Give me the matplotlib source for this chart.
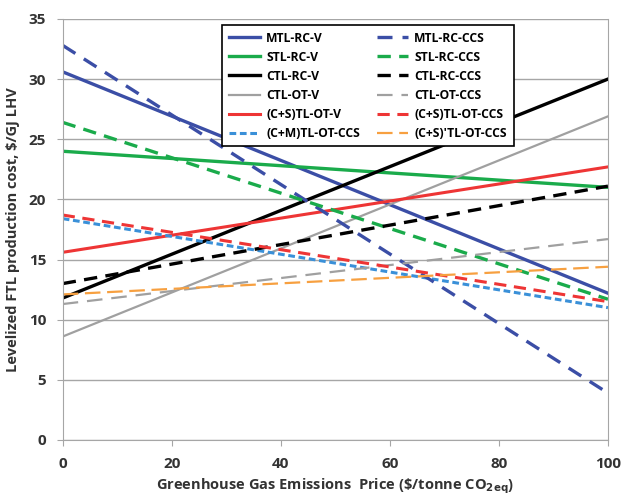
import matplotlib
matplotlib.use("Agg")
import matplotlib.pyplot as plt

# GHG price ($/tonne CO2eq)
price = [0, 100]

# levelized cost at price 0 and 100 ($/GJ LHV)
mtl_rc_v = [30.6, 12.2]
mtl_rc_ccs = [32.8, 3.9]
stl_rc_v = [24.0, 21.0]
stl_rc_ccs = [26.4, 11.7]
ctl_rc_v = [11.8, 30.0]
ctl_rc_ccs = [13.0, 21.1]
ctl_ot_v = [8.6, 26.9]
ctl_ot_ccs = [11.3, 16.7]
cs_ot_v = [15.6, 22.7]
cs_ot_ccs = [18.7, 11.5]
cm_ot_ccs = [18.4, 11.0]
csp_ot_ccs = [12.1, 14.4]

plt.rcParams['font.family'] = ['Open Sans', 'DejaVu Sans']
plt.rcParams['mathtext.default'] = 'bf'

fig = plt.figure(figsize=(6.21, 4.98), dpi=100)
ax = fig.add_axes([0.101, 0.1165, 0.878, 0.8455])

blue = "#3b4ea6"
green = "#1aab4b"
grey = "#a0a0a0"
red = "#ee3535"
lblue = "#3a90d8"
orange = "#f7a040"

# left legend column first, then right column
ax.plot(price, mtl_rc_v, color=blue, lw=2.4, label="MTL-RC-V")
ax.plot(price, stl_rc_v, color=green, lw=2.4, label="STL-RC-V")
ax.plot(price, ctl_rc_v, color="black", lw=2.4, label="CTL-RC-V")
ax.plot(price, ctl_ot_v, color=grey, lw=1.6, label="CTL-OT-V")
ax.plot(price, cs_ot_v, color=red, lw=2.2, label="(C+S)TL-OT-V")
ax.plot(price, cm_ot_ccs, color=lblue, lw=2.2, ls=(0, (2.2, 1.2)), label="(C+M)TL-OT-CCS")
ax.plot(price, mtl_rc_ccs, color=blue, lw=2.4, ls=(0, (4.5, 3)), label="MTL-RC-CCS")
ax.plot(price, stl_rc_ccs, color=green, lw=2.4, ls=(0, (4, 2.5)), label="STL-RC-CCS")
ax.plot(price, ctl_rc_ccs, color="black", lw=2.4, ls=(0, (4, 2.5)), label="CTL-RC-CCS")
ax.plot(price, ctl_ot_ccs, color=grey, lw=1.6, ls=(0, (7, 4)), label="CTL-OT-CCS")
ax.plot(price, cs_ot_ccs, color=red, lw=2.2, ls=(0, (4, 2.5)), label="(C+S)TL-OT-CCS")
ax.plot(price, csp_ot_ccs, color=orange, lw=1.6, ls=(0, (7, 3)), label="(C+S)'TL-OT-CCS")

ax.set_xlim(0, 100)
ax.set_ylim(0, 35)
ax.set_xticks(range(0, 101, 20))
ax.set_yticks(range(0, 36, 5))
ax.yaxis.grid(True, color="#a6a6a6", lw=1)
ax.set_axisbelow(True)
for s in ["left", "bottom", "right", "top"]:
    ax.spines[s].set_color("#a6a6a6")
ax.spines["top"].set_visible(False)
ax.tick_params(colors="#a6a6a6", labelcolor="#333333", labelsize=11, length=4)
ax.tick_params(axis="x", pad=8)
ax.tick_params(axis="y", pad=8)
for lbl in ax.get_xticklabels() + ax.get_yticklabels():
    lbl.set_fontweight("bold")

ax.set_xlabel("Greenhouse Gas Emissions  Price (\\$/tonne CO$_{2eq}$)",
              fontsize=10.5, fontweight="bold", color="#333333", labelpad=4)
ax.set_ylabel("Levelized FTL production cost, \\$/GJ LHV",
              fontsize=10.5, fontweight="bold", color="#333333", labelpad=6)

leg = ax.legend(ncol=2, loc="upper left", bbox_to_anchor=(0.281, 1.0),
                frameon=True, fancybox=False, handlelength=2.6,
                columnspacing=1.4, labelspacing=0.5, borderpad=0.55,
                handletextpad=0.5, prop={'weight': 'bold', 'size': 8.7})
leg.get_frame().set_edgecolor("black")
leg.get_frame().set_linewidth(1.2)
leg.get_frame().set_alpha(1)

fig.savefig("out.png", dpi=100)
